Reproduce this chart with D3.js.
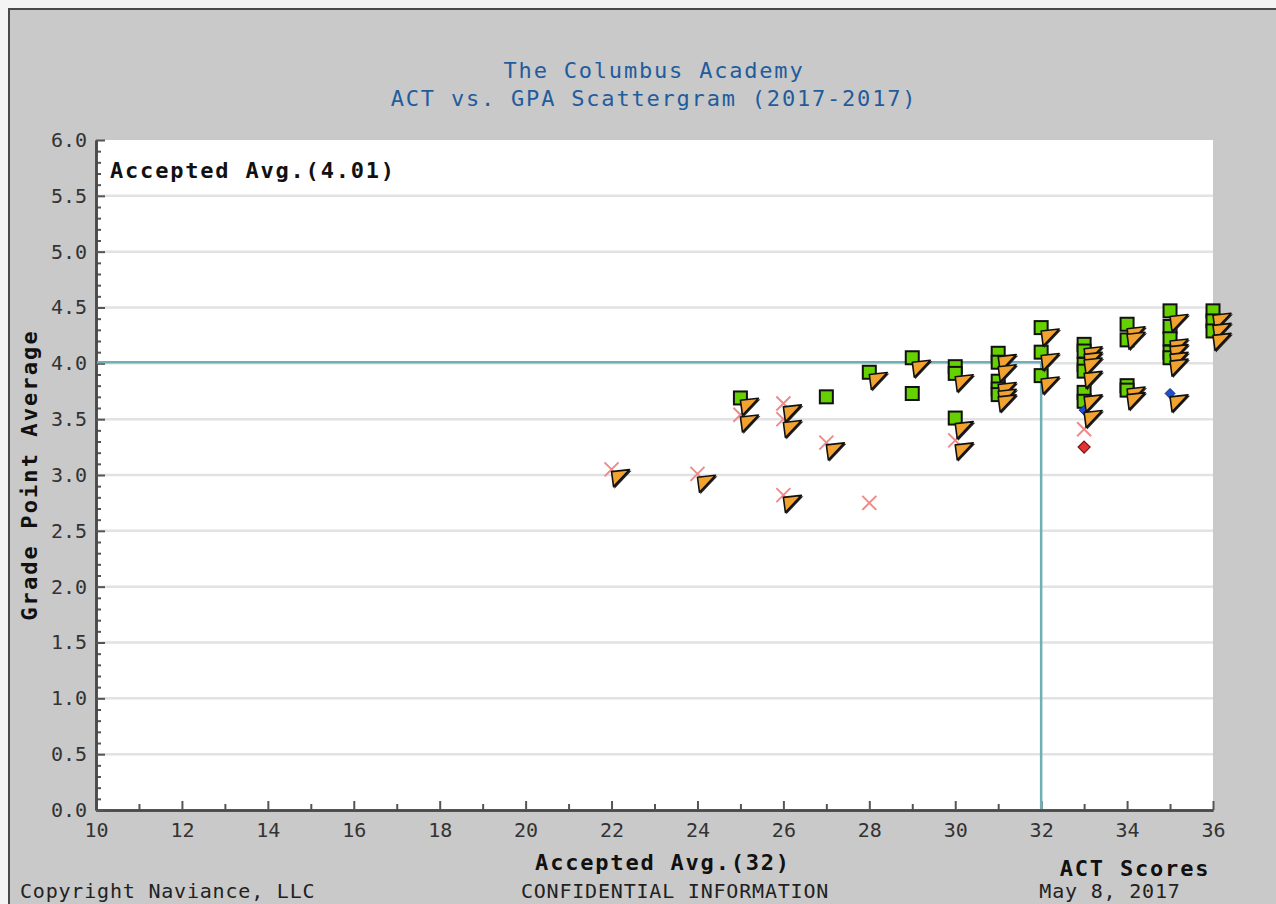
<!DOCTYPE html>
<html><head><meta charset="utf-8">
<script src="https://cdn.jsdelivr.net/npm/d3@7"></script>
<style>
html,body{margin:0;padding:0;background:#f4f4f4;}
svg{display:block;}
text{font-family:"DejaVu Sans Mono","Liberation Mono",monospace;}
</style></head>
<body>
<svg id="chart" width="1276" height="904"></svg>
<script>
// ---- data ----
const titleLines = ["The Columbus Academy", "ACT vs. GPA Scattergram (2017-2017)"];
const xTicksMajor = [10,12,14,16,18,20,22,24,26,28,30,32,34,36];
const yTicksMajor = [0,0.5,1,1.5,2,2.5,3,3.5,4,4.5,5,5.5,6];
const avgAct = 32;
const avgGpa = 4.01;

// green squares
const acceptedAct = [25,27,28,29,29,30,30,30,31,31,31,31,31,32,32,32,33,33,33,33,33,33,34,34,34,34,35,35,35,35,35,36,36,36];
const acceptedGpa = [3.69,3.70,3.92,4.05,3.73,3.97,3.91,3.51,4.09,4.01,3.84,3.77,3.72,4.32,4.10,3.89,4.17,4.11,3.99,3.93,3.74,3.66,4.35,4.21,3.80,3.76,4.47,4.33,4.22,4.10,4.05,4.47,4.38,4.29];
// orange triangles
const earlyAct = [22,24,25,25,26,26,26,27,28,29,30,30,30,31,31,31,31,31,32,32,32,33,33,33,33,33,33,34,34,34,34,35,35,35,35,35,35,36,36,36];
const earlyGpa = [3.03,2.98,3.67,3.52,3.61,3.47,2.80,3.27,3.90,4.01,3.88,3.46,3.27,4.06,3.97,3.81,3.75,3.70,4.29,4.07,3.86,4.13,4.08,4.03,3.91,3.70,3.56,4.31,4.26,3.77,3.72,4.42,4.20,4.15,4.08,4.02,3.70,4.43,4.34,4.25];
// red crosses
const deniedAct = [22,24,25,26,26,26,27,28,30,33];
const deniedGpa = [3.05,3.01,3.54,3.64,3.50,2.82,3.29,2.75,3.31,3.41];
// blue diamonds
const waitlistAct = [33,35];
const waitlistGpa = [3.58,3.73];
// red diamonds
const otherAct = [33];
const otherGpa = [3.25];

const zip = (a,b) => a.map((v,i)=>({act:v,gpa:b[i]}));

// ---- layout ----
const svg = d3.select("#chart");
const W = 1276, H = 904;
const pL = 96, pR = 1213, pT = 140, pB = 810;
const x = d3.scaleLinear().domain([10,36]).range([pL,pR]);
const y = d3.scaleLinear().domain([0,6]).range([pB,pT]);

// frame
svg.append("rect").attr("x",9).attr("y",9).attr("width",W+20).attr("height",H+20)
  .attr("fill","#c9c9c9").attr("stroke","#4a4a4a").attr("stroke-width",2);

// plot background
svg.append("rect").attr("x",pL).attr("y",pT).attr("width",pR-pL).attr("height",pB-pT).attr("fill","#ffffff");

// grid
svg.append("g").selectAll("line").data(yTicksMajor.filter(v=>v>0 && v<6)).join("line")
  .attr("x1",pL).attr("x2",pR).attr("y1",d=>y(d)).attr("y2",d=>y(d))
  .attr("stroke","#e2e2e2").attr("stroke-width",2.5);

// title
svg.append("g").selectAll("text").data(titleLines).join("text")
  .attr("x",654).attr("y",(d,i)=>78+i*28).attr("text-anchor","middle")
  .attr("fill","#1f5c9e").attr("font-size",22).attr("letter-spacing",1.8).text(d=>d);

// axes
const tickColor = "#555";
const xMajor = d3.axisBottom(x).tickValues(xTicksMajor).tickSizeInner(-9).tickSizeOuter(0).tickPadding(13).tickFormat(d3.format("d"));
const xMinor = d3.axisBottom(x).tickValues(d3.range(11,36,2)).tickSizeInner(-6).tickSizeOuter(0).tickFormat("");
const yMajor = d3.axisLeft(y).tickValues(yTicksMajor).tickSizeInner(-9).tickSizeOuter(0).tickPadding(9).tickFormat(d3.format(".1f"));
const yMinor = d3.axisLeft(y).tickValues(d3.range(0,60).map(v=>v/10).filter(v=>Math.round(v*10)%5!==0)).tickSizeInner(-5).tickSizeOuter(0).tickFormat("");

function styleAxis(g){
  g.select(".domain").attr("stroke","#4a4a4a").attr("stroke-width",2.5);
  g.selectAll(".tick line").attr("stroke",tickColor).attr("stroke-width",2);
  g.selectAll(".tick text").attr("fill","#333").attr("font-size",20).attr("font-family","DejaVu Sans Mono, monospace");
}
svg.append("g").attr("transform",`translate(0,${pB})`).call(xMinor).call(styleAxis);
svg.append("g").attr("transform",`translate(0,${pB})`).call(xMajor).call(styleAxis);
svg.append("g").attr("transform",`translate(${pL},0)`).call(yMinor).call(styleAxis);
svg.append("g").attr("transform",`translate(${pL},0)`).call(yMajor).call(styleAxis);

// average lines
svg.append("line").attr("x1",pL+1).attr("x2",x(avgAct)).attr("y1",y(avgGpa)).attr("y2",y(avgGpa))
  .attr("stroke","#6fb0b6").attr("stroke-width",2.5);
svg.append("line").attr("x1",x(avgAct)).attr("x2",x(avgAct)).attr("y1",y(avgGpa)).attr("y2",pB-1)
  .attr("stroke","#6fb0b6").attr("stroke-width",2.5);

// labels
svg.append("text").attr("x",110).attr("y",178).attr("font-size",22).attr("font-weight","bold")
  .attr("letter-spacing",1.8).attr("fill","#111").text(`Accepted Avg.(${avgGpa.toFixed(2)})`);
svg.append("text").attr("x",663).attr("y",870).attr("text-anchor","middle").attr("font-size",22).attr("font-weight","bold")
  .attr("letter-spacing",1.8).attr("fill","#111").text(`Accepted Avg.(${avgAct})`);
svg.append("text").attr("x",1135).attr("y",876).attr("text-anchor","middle").attr("font-size",22).attr("font-weight","bold")
  .attr("letter-spacing",1.8).attr("fill","#111").text("ACT Scores");
svg.append("text").attr("transform","translate(37,475) rotate(-90)").attr("text-anchor","middle").attr("font-size",22).attr("font-weight","bold")
  .attr("letter-spacing",2.1).attr("fill","#111").text("Grade Point Average");
// footer
const foot = [["Copyright Naviance, LLC",20,"start"],["CONFIDENTIAL INFORMATION",675,"middle"],["May 8, 2017",1110,"middle"]];
svg.append("g").selectAll("text").data(foot).join("text")
  .attr("x",d=>d[1]).attr("y",898).attr("text-anchor",d=>d[2]).attr("font-size",20).attr("letter-spacing",0.8)
  .attr("fill","#222").text(d=>d[0]);

// ---- marks ----
// red crosses
const xs = svg.append("g").selectAll("g").data(zip(deniedAct,deniedGpa)).join("g")
  .attr("transform",d=>`translate(${x(d.act)},${y(d.gpa)})`);
xs.append("path").attr("d","M-7,-7L7,7M-7,7L7,-7").attr("stroke","#f08a8a").attr("stroke-width",2).attr("fill","none");

// green squares
svg.append("g").selectAll("rect").data(zip(acceptedAct,acceptedGpa)).join("rect")
  .attr("x",d=>x(d.act)-6.5).attr("y",d=>y(d.gpa)-6.5).attr("width",13).attr("height",13)
  .attr("fill","#66d100").attr("stroke","#111").attr("stroke-width",2);

// blue diamonds
svg.append("g").selectAll("path").data(zip(waitlistAct,waitlistGpa)).join("path")
  .attr("transform",d=>`translate(${x(d.act)},${y(d.gpa)})`)
  .attr("d","M0,-5L5,0L0,5L-5,0Z").attr("fill","#1f4fcf").attr("stroke","#102a80").attr("stroke-width",1);

// red diamonds
svg.append("g").selectAll("path").data(zip(otherAct,otherGpa)).join("path")
  .attr("transform",d=>`translate(${x(d.act)},${y(d.gpa)})`)
  .attr("d","M0,-6L6,0L0,6L-6,0Z").attr("fill","#e03434").attr("stroke","#7a1010").attr("stroke-width",1.2);

// orange triangles
const tri = svg.append("g").selectAll("g").data(zip(earlyAct,earlyGpa)).join("g")
  .attr("transform",d=>`translate(${x(d.act)},${y(d.gpa)})`);
tri.append("path").attr("d","M1,1L20,-1L3,17Z").attr("fill","#222");
tri.append("path").attr("d","M0,0L18,-2L2,15Z").attr("fill","#f2a22e").attr("stroke","#111").attr("stroke-width",1.6).attr("stroke-linejoin","round");
</script>
</body></html>
